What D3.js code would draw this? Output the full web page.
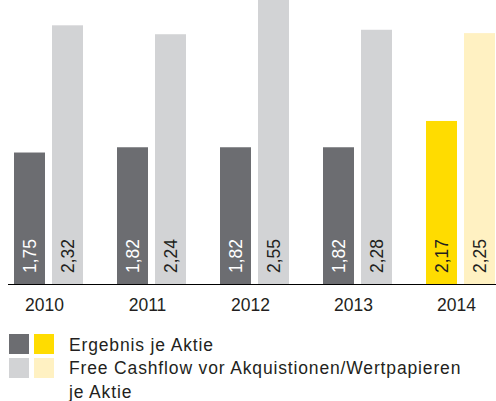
<!DOCTYPE html>
<html>
<head>
    <meta charset="utf-8">
    <script src="https://cdn.jsdelivr.net/npm/d3@7"></script>
    <style>
        body { margin: 0; background: #fff; }
        svg { display: block; font-family: "Liberation Sans", Arial, Helvetica, sans-serif; }
    </style>
</head>
<body>
<script>
    const years = ['2010', '2011', '2012', '2013', '2014'];
    const ergebnis = [1.75, 1.82, 1.82, 1.82, 2.17];
    const cashflow = [2.32, 2.24, 2.55, 2.28, 2.25];
    const legendLabels = ['Ergebnis je Aktie', 'Free Cashflow vor Akquistionen/Wertpapieren', 'je Aktie'];

    const width = 496;
    const height = 401;
    const baseY = 284;

    const svg = d3.select('body')
        .append('svg')
        .attr('width', width)
        .attr('height', height);

    // two series, each drawn on its own scale (as in the original)
    const yE = d3.scaleLinear().domain([0, 3.78]).range([baseY, 0]);
    const yF = d3.scaleLinear().domain([0, 2.547]).range([baseY, 0]);

    const x = d3.scaleBand().domain(years).range([14, 14 + 103 * 5]);
    const xs = d3.scaleBand().domain(['e', 'f']).range([0, 69]).paddingInner(7 / 38);

    const colE = y => y === '2014' ? '#ffdc00' : '#6c6d71';
    const colF = y => y === '2014' ? '#fff1c2' : '#d2d3d5';

    const rows = years.map((y, i) => ({ year: y, e: ergebnis[i], f: cashflow[i] }));

    const g = svg.selectAll('g.year')
        .data(rows)
        .join('g')
        .attr('class', 'year')
        .attr('transform', d => `translate(${x(d.year)},0)`);

    g.append('rect')
        .attr('x', xs('e'))
        .attr('width', xs.bandwidth())
        .attr('y', d => yE(d.e))
        .attr('height', d => baseY - yE(d.e))
        .attr('fill', d => colE(d.year));

    g.append('rect')
        .attr('x', xs('f'))
        .attr('width', xs.bandwidth())
        .attr('y', d => yF(d.f))
        .attr('height', d => baseY - yF(d.f))
        .attr('fill', d => colF(d.year));

    const fmt = v => v.toFixed(2).replace('.', ',');

    g.append('text')
        .attr('transform', `translate(${xs('e') + xs.bandwidth() / 2},${baseY - 11}) rotate(-90)`)
        .attr('dy', '0.36em')
        .attr('font-size', 17.5)
        .attr('fill', d => d.year === '2014' ? '#231f20' : '#fff')
        .text(d => fmt(d.e));

    g.append('text')
        .attr('transform', `translate(${xs('f') + xs.bandwidth() / 2},${baseY - 11}) rotate(-90)`)
        .attr('dy', '0.36em')
        .attr('font-size', 17.5)
        .attr('fill', '#231f20')
        .text(d => fmt(d.f));

    // baseline
    svg.append('line')
        .attr('x1', 8).attr('x2', width)
        .attr('y1', baseY + 0.5).attr('y2', baseY + 0.5)
        .attr('stroke', '#000')
        .attr('stroke-width', 1);

    g.append('text')
        .attr('x', 69 / 2 - 4)
        .attr('y', 311)
        .attr('text-anchor', 'middle')
        .attr('font-size', 17.5)
        .attr('fill', '#231f20')
        .text(d => d.year);

    // legend
    const leg = svg.append('g');
    const swatches = [['#6c6d71', '#ffdc00'], ['#d2d3d5', '#fff1c2']];
    swatches.forEach((pair, r) => {
        pair.forEach((c, k) => {
            leg.append('rect')
                .attr('x', 9 + k * 25)
                .attr('y', 334 + r * 24)
                .attr('width', 20)
                .attr('height', 20)
                .attr('fill', c);
        });
    });
    legendLabels.forEach((t, i) => {
        leg.append('text')
            .attr('x', 69)
            .attr('y', 350.5 + i * 23.5)
            .attr('font-size', 17.5)
            .attr('letter-spacing', 0.85)
            .attr('fill', '#231f20')
            .text(t);
    });
</script>
</body>
</html>
